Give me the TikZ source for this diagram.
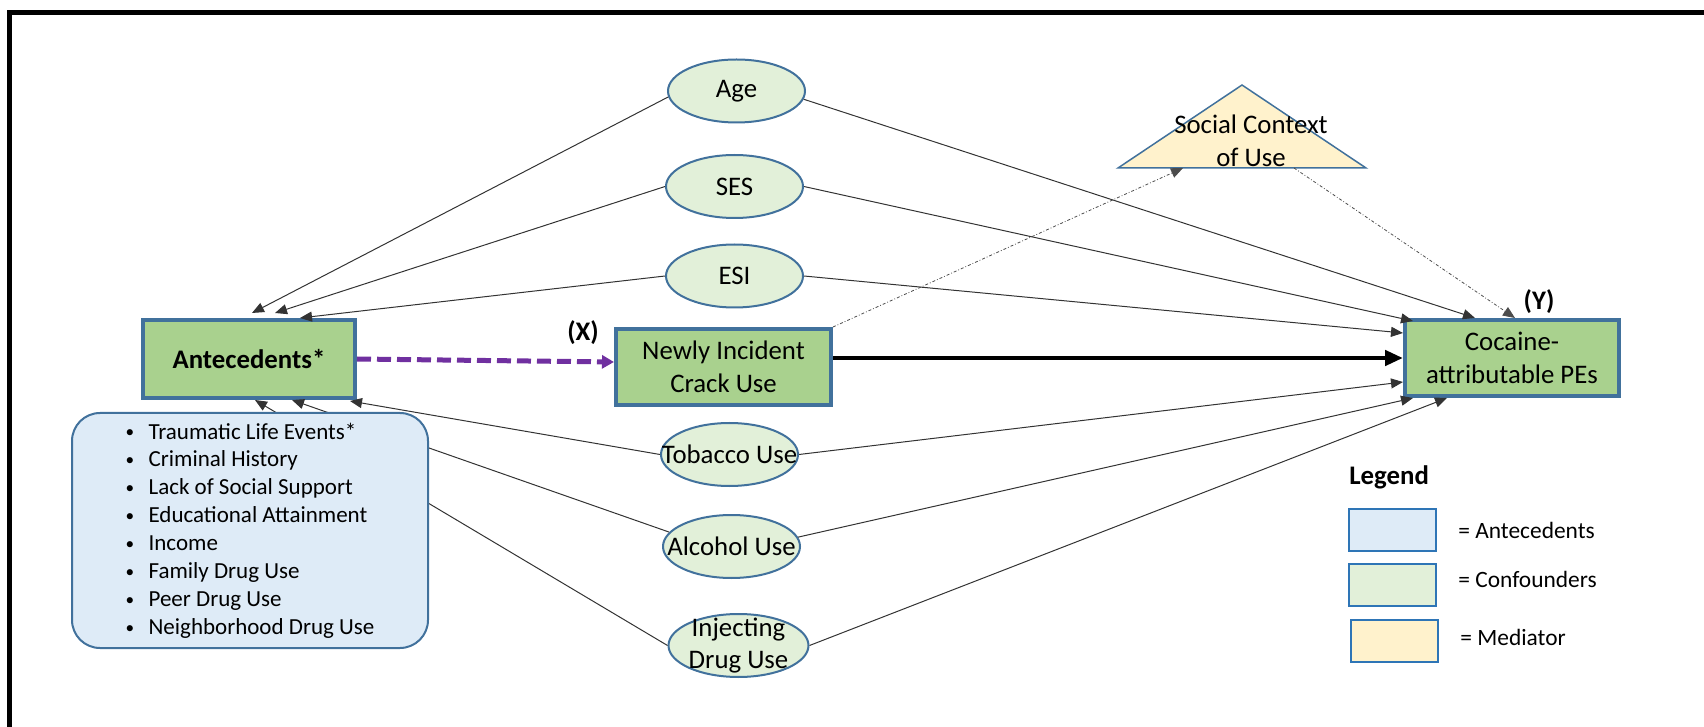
\documentclass[tikz,border=0pt]{standalone}
\usepackage{fontspec}
\usepackage{graphicx}
\setmainfont{Carlito}
\usetikzlibrary{positioning, calc, arrows.meta, shapes.geometric}

\definecolor{edgeblue}{RGB}{65,113,156}
\definecolor{legblue}{RGB}{46,117,182}
\definecolor{boxgreen}{RGB}{169,209,142}
\definecolor{confgreen}{RGB}{226,240,217}
\definecolor{antblue}{RGB}{222,235,247}
\definecolor{medyellow}{RGB}{255,242,204}
\definecolor{dashpurple}{RGB}{112,48,160}

\newcommand{\itm}{\makebox[11.5pt][l]{\raisebox{0.6pt}{\scalebox{0.75}{\textbullet}}}}

\begin{document}
\begin{tikzpicture}[x=0.5pt, y=-0.5pt,
	font=\fontsize{13.4}{16.4}\selectfont,
	>={Triangle[length=6pt,width=5pt]},
	var/.style={rectangle, draw=edgeblue, fill=boxgreen, line width=2pt, align=center},
	conf/.style={ellipse, draw=edgeblue, fill=confgreen, line width=1pt, minimum width=68.5pt, minimum height=31.5pt, inner sep=0pt},
	legbox/.style={rectangle, draw=legblue, line width=1pt, minimum width=43.5pt, minimum height=21pt},
	arr/.style={->, black!80, line width=0.5pt},
	dotarr/.style={->, black!70, line width=0.4pt, dash pattern=on 1.5pt off 1pt on 0.4pt off 1pt}
	]
	\useasboundingbox (0,0) rectangle (1704,727);
	\draw[line width=2.25pt] (1704,12.5) -- (9.5,12.5) -- (9.5,727);

	% exposure, outcome, antecedents
	\node[var, minimum width=106pt, minimum height=39pt, font=\fontsize{13.4}{16.4}\selectfont\bfseries] (ante) at (249,359) {Antecedents*};
	\node[var, minimum width=107.5pt, minimum height=38pt] (newly) at (723.5,367) {Newly Incident\\Crack Use};
	\node[var, minimum width=107pt, minimum height=38pt] (coc) at (1512,358) {Cocaine-\\attributable PEs};
	\node[font=\fontsize{13.4}{16.4}\selectfont\bfseries] (xlab) at (583,333) {(X)};
	\node[font=\fontsize{13.4}{16.4}\selectfont\bfseries] (ylab) at (1539,302) {(Y)};

	% confounders
	\node[conf, label=center:Age] (age) at (736.5,91) {};
	\node[conf, label=center:SES] (ses) at (734.5,186.5) {};
	\node[conf, label=center:ESI] (esi) at (734.5,276) {};
	\node[conf, label=center:Tobacco Use] (tob) at (729.5,454.5) {};
	\node[conf, label=center:Alcohol Use] (alc) at (731.5,546.5) {};
	\node[conf, minimum width=70pt, label={[align=center]center:Injecting\\Drug Use}] (inj) at (738.5,645.5) {};

	% mediator
	\draw[draw=edgeblue, fill=medyellow, line width=0.75pt] (1118,168) -- (1242,85) -- (1366,168) -- cycle;
	\node[align=center] (soc) at (1251,141) {Social Context\\of Use};
	\coordinate (socin) at (1183,168);
	\coordinate (socout) at (1294,168);

	\draw[arr] (age.185) -- ($(ante.north)+(3,-5)$);
	\draw[arr] (ses.west) -- ($(ante.north)+(26,-5)$);
	\draw[arr] (esi.west) -- ($(ante.north)+(51,0)$);
	\draw[arr] (tob.west) -- ($(ante.south east)+(-7,1)$);
	\draw[arr] (alc.167) -- ($(ante.south)+(43,0)$);
	\draw[arr] (inj.west) -- ($(ante.south)+(6,0)$);

	\draw[arr] (age.-7) -- ($(coc.north)+(-37,0)$);
	\draw[arr] (ses.east) -- ($(coc.north west)+(10,3)$);
	\draw[arr] (esi.east) -- ($(coc.west)+(0,-25)$);
	\draw[arr] (tob.east) -- ($(coc.west)+(0,24)$);
	\draw[arr] (alc.8) -- ($(coc.south west)+(10,0)$);
	\draw[arr] (inj.east) -- ($(coc.south west)+(44,0)$);

	\draw[->, >={Triangle[length=6pt,width=6.5pt]}, dashpurple, line width=2.5pt, dash pattern=on 7pt off 3pt] (ante.east) -- ($(newly.west)+(0,-5)$);
	\draw[->, >={Triangle[length=9pt,width=7.5pt]}, line width=2.4pt] (newly.east |- coc.west) -- (coc.west);
	\draw[dotarr] (newly.north east) -- (socin);
	\draw[dotarr] (socout) -- ($(coc.north)+(3,0)$);

	% antecedent list
	\node[draw=edgeblue, fill=antblue, line width=1pt, rounded corners=14pt, minimum width=178pt, minimum height=117.5pt, align=left, font=\fontsize{11.5}{13.95}\selectfont] (antelist) at (250,530.5) {\itm Traumatic Life Events*\\ \itm Criminal History\\ \itm Lack of Social Support\\ \itm Educational Attainment\\ \itm Income\\ \itm Family Drug Use\\ \itm Peer Drug Use\\ \itm Neighborhood Drug Use};

	% legend
	\node[font=\fontsize{13.4}{16.4}\selectfont\bfseries, anchor=west, inner sep=0pt] (leg) at (1349,477) {Legend};
	\node[legbox, fill=antblue] (lgant) at (1392.5,530) {};
	\node[legbox, fill=confgreen, below=5.5pt of lgant] (lgconf) {};
	\node[legbox, fill=medyellow, below=6pt of lgconf, xshift=1pt] (lgmed) {};
	\node[right=10.5pt of lgant, inner sep=0pt, font=\fontsize{11.7}{14}\selectfont] (lgantlab) {= Antecedents};
	\node[right=10.5pt of lgconf, yshift=3pt, inner sep=0pt, font=\fontsize{11.7}{14}\selectfont] (lgconflab) {= Confounders};
	\node[right=10.5pt of lgmed, yshift=2pt, inner sep=0pt, font=\fontsize{11.7}{14}\selectfont] (lgmedlab) {= Mediator};
\end{tikzpicture}
\end{document}
